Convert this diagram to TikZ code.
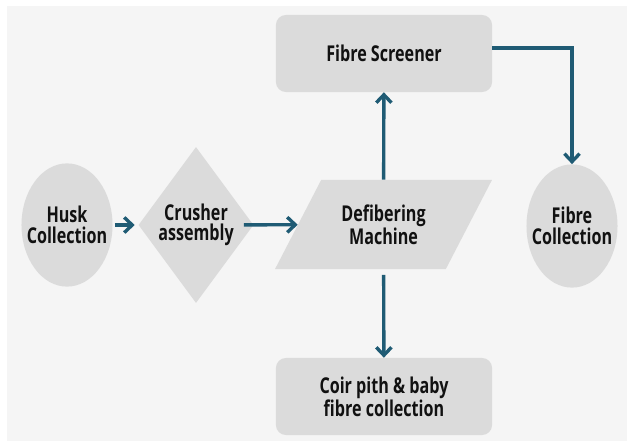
\documentclass[tikz,border=0pt]{standalone}
\usepackage{fontspec}
\setmainfont{Open Sans}[FakeStretch=0.74]
\usepackage{tikz}
\usetikzlibrary{
  arrows.meta,
  shapes.geometric
}
\definecolor{flow}{HTML}{1F5B74}
\definecolor{ink}{HTML}{111111}
\definecolor{stagefill}{HTML}{DBDBDB}
\definecolor{paper}{HTML}{F5F5F5}
\tikzset{
  every node/.style={font=\bfseries\fontsize{15.5}{14.6}\selectfont, text=ink},
  caption/.style={
    align=center,
    inner sep=0pt
  },
  procbox/.style={
    rounded corners=7pt,
    fill=stagefill,
    align=center,
    minimum width=5.4cm,
    minimum height=1.925cm
  },
  endblob/.style={
    ellipse,
    fill=stagefill,
    minimum width=2.275cm,
    minimum height=3.08cm,
    inner sep=0pt
  },
  crushbox/.style={
    diamond,
    fill=stagefill,
    minimum width=2.875cm,
    minimum height=3.9cm,
    inner sep=0pt
  },
  machbox/.style={
    trapezium,
    trapezium left angle=55,
    trapezium right angle=125,
    trapezium stretches=true,
    fill=stagefill,
    align=center,
    minimum width=5.425cm,
    minimum height=2.225cm
  },
  flowarr/.style={-{Straight Barb[length=2mm,width=3.8mm]}, line width=2.4pt, draw=flow},
}

\begin{document}
\begin{tikzpicture}[x=0.025cm, y=-0.025cm]

  % =====================================================================
  % Page
  % =====================================================================
  \useasboundingbox (0,0) rectangle (627,441);
  \fill[paper] (7,6) rectangle (627,441);

  % =====================================================================
  % Stages
  % =====================================================================
  \node[endblob] (husk) at (67,225) {};
  \node[caption] (huskT) at (husk) {Husk\\Collection};

  \node[crushbox] (crusher) at (196,225) {};
  \node[caption] (crusherT) at (crusher) {Crusher\\assembly};

  \node[machbox] (defib) at (383.5,224.5) {Defibering\\Machine};

  \node[procbox] (screener) at (384,53.5) {Fibre Screener};

  \node[procbox] (coir) at (384,396.5) {Coir pith \& baby\\fibre collection};

  \node[endblob] (fcoll) at (572,226) {};
  \node[caption] (fcollT) at (fcoll) {Fibre\\Collection};

  % =====================================================================
  % Flow
  % =====================================================================
  \draw[flowarr, shorten <=1.5pt, shorten >=2.5pt] (husk) -- (crusher);
  \draw[flowarr, shorten <=-7pt] (crusher) -- (defib);
  \draw[flowarr] (defib) -- (screener);
  \draw[flowarr, shorten <=4pt] (defib) -- (coir);
  \draw[flowarr] ([yshift=4pt]screener.east) -| (fcoll);

\end{tikzpicture}
\end{document}
